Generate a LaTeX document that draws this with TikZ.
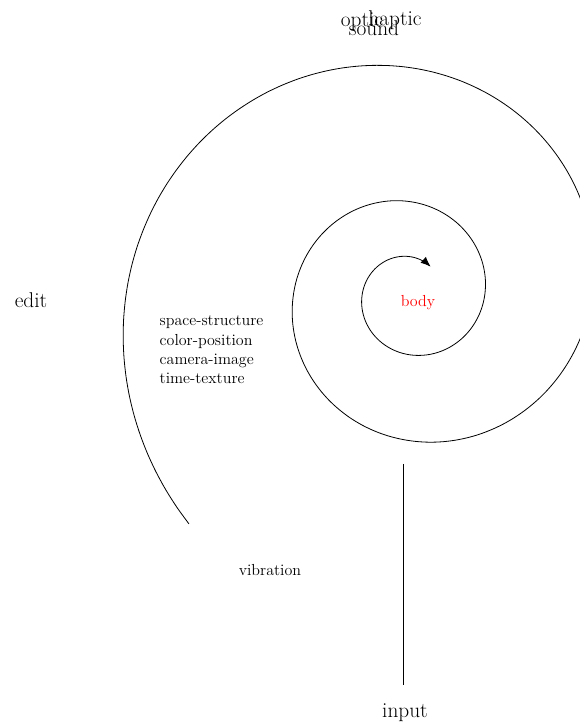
\documentclass[tikz,border=0pt]{standalone}
\usetikzlibrary{arrows.meta}
\begin{document}
\begin{tikzpicture}[x=.75pt,y=.75pt,
  big/.style={font=\fontsize{16}{18}\selectfont},
  small/.style={font=\fontsize{12}{14.6}\selectfont},
  coil/.style={line width=.6pt}]
\useasboundingbox (0,0) rectangle (580,726);
% log spiral, outer end to inner arrow
\draw[coil,shift={(410,431)},-{Latex[length=7.5pt,width=6pt]}]
  plot[variable=\t,domain=226:-666,samples=240,smooth]
  (\t:{284*exp(0.00247*(\t-180))});
\node[big] (optic) at (362,704) {optic};
\node[big] (haptic) at (395,706) {haptic};
\node[big] (sound) at (374,698) {sound};
\node[big] (edit) at (31,426) {edit};
\node[small,red] (body) at (418,423) {body};
\node[small,align=left,anchor=north west] (pairs) at (155,415)
  {space-structure\\color-position\\camera-image\\time-texture};
\node[small] (vibration) at (270,156) {vibration};
\node[big] (input) at (405,13) {input};
\coordinate (feed) at (403,262);
\draw[coil,shorten >=11pt] (feed) -- (feed |- input.north);
\end{tikzpicture}
\end{document}
